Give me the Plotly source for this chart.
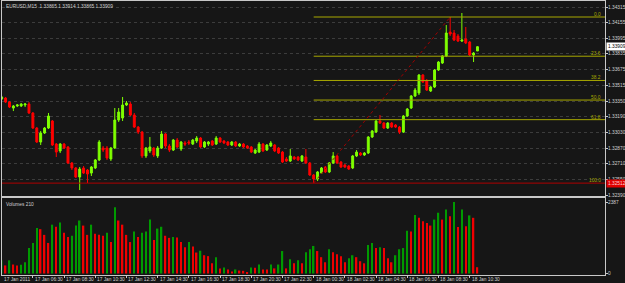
import plotly.graph_objects as go

# ---------------- data (EURUSD M15, 17-18 Jan 2011) ----------------
opens = [1.33373, 1.33383, 1.33342, 1.33281, 1.33302, 1.33302, 1.33312, 1.33322, 1.33230, 1.33076,
         1.32933, 1.33025, 1.33076, 1.33148, 1.32912, 1.32841, 1.32912, 1.32882, 1.32718, 1.32667,
         1.32574, 1.32667, 1.32646, 1.32615, 1.32667, 1.32749, 1.32871, 1.32871, 1.32759, 1.32871,
         1.33158, 1.33179, 1.33312, 1.33322, 1.33209, 1.33086, 1.33035, 1.32790, 1.32841, 1.32871,
         1.32790, 1.32871, 1.33015, 1.32892, 1.32851, 1.32953, 1.32861, 1.32923, 1.32933, 1.32912,
         1.32943, 1.32974, 1.32882, 1.32912, 1.32943, 1.32912, 1.32974, 1.32943, 1.32933, 1.32902,
         1.32933, 1.32892, 1.32912, 1.32892, 1.32882, 1.32820, 1.32830, 1.32912, 1.32851, 1.32892,
         1.32902, 1.32871, 1.32830, 1.32759, 1.32738, 1.32779, 1.32779, 1.32738, 1.32779, 1.32718,
         1.32595, 1.32554, 1.32615, 1.32677, 1.32626, 1.32718, 1.32790, 1.32728, 1.32697, 1.32687,
         1.32667, 1.32790, 1.32820, 1.32800, 1.32820, 1.32984, 1.33035, 1.33148, 1.33127, 1.33076,
         1.33127, 1.33107, 1.33086, 1.33035, 1.33199, 1.33281, 1.33404, 1.33435, 1.33619, 1.33558,
         1.33455, 1.33496, 1.33670, 1.33742, 1.33814, 1.34059, 1.34049, 1.34018, 1.33967, 1.33988,
         1.33957, 1.33824, 1.33865]
highs = [1.33404, 1.33394, 1.33353, 1.33312, 1.33322, 1.33332, 1.33332, 1.33342, 1.33240, 1.33086,
         1.33046, 1.33086, 1.33230, 1.33158, 1.32923, 1.32923, 1.32923, 1.32892, 1.32728, 1.32677,
         1.32677, 1.32687, 1.32656, 1.32687, 1.32759, 1.32953, 1.32892, 1.32892, 1.32882, 1.33281,
         1.33281, 1.33394, 1.33353, 1.33342, 1.33230, 1.33097, 1.33046, 1.32882, 1.32984, 1.32882,
         1.32892, 1.33046, 1.33025, 1.32912, 1.32964, 1.32974, 1.32943, 1.32943, 1.32953, 1.32964,
         1.32994, 1.32984, 1.32943, 1.32943, 1.32953, 1.32994, 1.32984, 1.32953, 1.32943, 1.32943,
         1.32943, 1.32923, 1.32923, 1.32902, 1.32892, 1.32861, 1.32933, 1.32923, 1.32912, 1.32943,
         1.32912, 1.32882, 1.32841, 1.32779, 1.32861, 1.32790, 1.32790, 1.32800, 1.32861, 1.32728,
         1.32605, 1.32636, 1.32677, 1.32687, 1.32728, 1.32830, 1.32800, 1.32738, 1.32708, 1.32697,
         1.32800, 1.32851, 1.32830, 1.32830, 1.32994, 1.33056, 1.33158, 1.33209, 1.33138, 1.33138,
         1.33138, 1.33117, 1.33097, 1.33209, 1.33281, 1.33414, 1.33486, 1.33629, 1.33629, 1.33578,
         1.33506, 1.33680, 1.33762, 1.33824, 1.34131, 1.34213, 1.34080, 1.34039, 1.34254, 1.34111,
         1.33967, 1.33855, 1.33914]
lows = [1.33363, 1.33332, 1.33281, 1.33250, 1.33291, 1.33291, 1.33291, 1.33220, 1.33066, 1.32923,
        1.32902, 1.33015, 1.33066, 1.32892, 1.32779, 1.32820, 1.32861, 1.32708, 1.32646, 1.32564,
        1.32441, 1.32605, 1.32513, 1.32585, 1.32656, 1.32738, 1.32830, 1.32749, 1.32738, 1.32861,
        1.33138, 1.33148, 1.33302, 1.33199, 1.33076, 1.33015, 1.32769, 1.32769, 1.32820, 1.32779,
        1.32769, 1.32861, 1.32871, 1.32830, 1.32841, 1.32871, 1.32841, 1.32892, 1.32902, 1.32902,
        1.32923, 1.32871, 1.32871, 1.32892, 1.32892, 1.32902, 1.32923, 1.32912, 1.32892, 1.32892,
        1.32882, 1.32882, 1.32871, 1.32861, 1.32820, 1.32810, 1.32820, 1.32830, 1.32841, 1.32882,
        1.32830, 1.32810, 1.32718, 1.32728, 1.32728, 1.32749, 1.32738, 1.32728, 1.32708, 1.32585,
        1.32512, 1.32533, 1.32605, 1.32615, 1.32615, 1.32708, 1.32708, 1.32667, 1.32667, 1.32646,
        1.32656, 1.32779, 1.32790, 1.32790, 1.32810, 1.32974, 1.33025, 1.33117, 1.33066, 1.33066,
        1.33076, 1.33076, 1.33015, 1.33025, 1.33189, 1.33271, 1.33394, 1.33414, 1.33537, 1.33455,
        1.33445, 1.33486, 1.33660, 1.33732, 1.33803, 1.34018, 1.33967, 1.33957, 1.33957, 1.33936,
        1.33814, 1.33752, 1.33865]
closes = [1.33394, 1.33342, 1.33291, 1.33302, 1.33312, 1.33322, 1.33322, 1.33230, 1.33076, 1.32933,
          1.33025, 1.33076, 1.33199, 1.32902, 1.32830, 1.32912, 1.32871, 1.32718, 1.32667, 1.32574,
          1.32656, 1.32615, 1.32605, 1.32677, 1.32749, 1.32933, 1.32851, 1.32769, 1.32871, 1.33158,
          1.33240, 1.33312, 1.33332, 1.33209, 1.33086, 1.33035, 1.32790, 1.32871, 1.32882, 1.32800,
          1.32871, 1.33015, 1.32892, 1.32851, 1.32953, 1.32882, 1.32933, 1.32912, 1.32923, 1.32953,
          1.32974, 1.32882, 1.32933, 1.32933, 1.32902, 1.32974, 1.32933, 1.32923, 1.32902, 1.32933,
          1.32892, 1.32912, 1.32882, 1.32871, 1.32830, 1.32851, 1.32912, 1.32841, 1.32902, 1.32923,
          1.32841, 1.32820, 1.32728, 1.32738, 1.32790, 1.32759, 1.32749, 1.32790, 1.32718, 1.32595,
          1.32554, 1.32626, 1.32667, 1.32626, 1.32718, 1.32790, 1.32718, 1.32677, 1.32677, 1.32656,
          1.32790, 1.32830, 1.32800, 1.32820, 1.32984, 1.33046, 1.33148, 1.33127, 1.33076, 1.33127,
          1.33086, 1.33086, 1.33035, 1.33199, 1.33271, 1.33404, 1.33465, 1.33619, 1.33547, 1.33465,
          1.33496, 1.33670, 1.33752, 1.33814, 1.34049, 1.34039, 1.33977, 1.33967, 1.33977, 1.33947,
          1.33824, 1.33844, 1.33909]
volumes = [440, 270, 440, 300, 270, 290, 375, 850, 1020, 1520,
           1480, 1290, 1020, 1630, 1560, 1700, 1360, 1220, 1260, 1600,
           1770, 1600, 1290, 1630, 1330, 1290, 1260, 1360, 1050, 2210,
           1770, 1630, 1290, 1050, 1400, 1220, 1360, 1400, 1800, 1120,
           1500, 1560, 1260, 1190, 1220, 1200, 1050, 880, 1050, 900,
           700, 760, 610, 580, 340, 545, 170, 200, 135, 70,
           135, 100, 90, 35, 200, 190, 300, 135, 130, 300,
           170, 300, 750, 170, 475, 340, 440, 340, 710, 810,
           920, 750, 545, 375, 810, 710, 645, 580, 375, 510,
           610, 545, 410, 340, 950, 1020, 850, 880, 850, 510,
           375, 610, 810, 850, 1430, 1400, 1950, 1860, 1745, 1690,
           1600, 1800, 2030, 1800, 2140, 1915, 2387, 1555, 2140, 1575,
           1940, 1860, 210]

time_label_bars = [0, 8, 16, 24, 32, 40, 48, 56, 64, 72, 80, 88, 96, 104, 112, 120]
time_labels = ["17 Jan 2011", "17 Jan 06:30", "17 Jan 08:30", "17 Jan 10:30", "17 Jan 12:30",
               "17 Jan 14:30", "17 Jan 16:30", "17 Jan 18:30", "17 Jan 20:30", "17 Jan 22:30",
               "18 Jan 00:30", "18 Jan 02:30", "18 Jan 04:30", "18 Jan 06:30", "18 Jan 08:30",
               "18 Jan 10:30"]
price_ticks = [1.34315, 1.34155, 1.33995, 1.33835, 1.33675, 1.33515, 1.33350, 1.33190,
               1.33030, 1.32870, 1.32710, 1.32550, 1.32390]
fib_ratios = [0.0, 23.6, 38.2, 50.0, 61.8, 100.0]
fib_low_bar = 80
fib_high_bar = 115
symbol = "EURUSD,M15"

# ---------------- styling ----------------
BG = "#161616"
AXIS = "#c8c8c8"
TXT = "#d0d0d0"
CANDLE_UP = "#7fff00"
CANDLE_DN = "#ff0000"
VOL_UP = "#009a00"
VOL_DN = "#f00000"
FIB = "#a8a800"
LOWLINE = "#b00000"
FONT = "Liberation Sans"
FS = 4.8

n = len(closes)
xs = list(range(n))
X_MIN, X_MAX = 0.08, 154.7


def xpaper(b):
    return (b - X_MIN) / (X_MAX - X_MIN)


vol_colors = [VOL_UP]
for i in range(1, n):
    vol_colors.append(VOL_UP if volumes[i] > volumes[i - 1] else VOL_DN)

fig = go.Figure()
fig.add_trace(go.Candlestick(
    x=xs, open=opens, high=highs, low=lows, close=closes,
    increasing=dict(line=dict(color=CANDLE_UP, width=1), fillcolor=CANDLE_UP),
    decreasing=dict(line=dict(color=CANDLE_DN, width=1), fillcolor=CANDLE_DN),
    whiskerwidth=0, xaxis="x", yaxis="y", showlegend=False, hoverinfo="skip"))
fig.add_trace(go.Bar(
    x=xs, y=volumes, marker=dict(color=vol_colors, line=dict(width=0)),
    width=0.36, xaxis="x2", yaxis="y2", showlegend=False, hoverinfo="skip"))

fib_low = lows[fib_low_bar]
fib_high = highs[fib_high_bar]

shapes = []
annotations = []
shapes.append(dict(type="line", xref="x", yref="y", x0=X_MIN, x1=X_MAX, y0=fib_low, y1=fib_low,
                   line=dict(color=LOWLINE, width=1)))
for r in fib_ratios:
    lvl = fib_high - r / 100.0 * (fib_high - fib_low)
    if r < 100:
        shapes.append(dict(type="line", xref="x", yref="y", x0=fib_low_bar, x1=X_MAX, y0=lvl, y1=lvl,
                           line=dict(color=FIB, width=1)))
    annotations.append(dict(xref="paper", yref="y", x=0.9955, y=lvl, text=f"{r:.1f}", showarrow=False,
                            xanchor="right", yanchor="bottom", yshift=-1, borderpad=0,
                            font=dict(family=FONT, size=FS, color=FIB)))
shapes.append(dict(type="line", xref="x", yref="y", x0=fib_low_bar, x1=fib_high_bar, y0=fib_low, y1=fib_high,
                   line=dict(color="#a00000", width=1, dash="dot")))

# price axis labels
for v in price_ticks:
    annotations.append(dict(xref="paper", yref="y", x=1.0, y=v, xanchor="left", yanchor="middle",
                            xshift=2, text=f"{v:.5f}", showarrow=False, borderpad=0,
                            font=dict(family=FONT, size=FS, color=TXT)))
# volume axis labels
for v in [max(volumes), 0]:
    annotations.append(dict(xref="paper", yref="y2", x=1.0, y=v, xanchor="left", yanchor="middle",
                            xshift=2, text=str(v), showarrow=False, borderpad=0,
                            font=dict(family=FONT, size=FS, color=TXT)))
# time labels
for b, t in zip(time_label_bars, time_labels):
    annotations.append(dict(xref="paper", yref="paper", x=max(xpaper(b), 0.0), y=0, xanchor="left",
                            yanchor="top", xshift=1, yshift=-1, text=t, showarrow=False, borderpad=0,
                            font=dict(family=FONT, size=FS, color=TXT)))

# header
annotations.append(dict(xref="paper", yref="paper", x=0.004, y=0.997, xanchor="left", yanchor="top",
                        text=f"{symbol}  {opens[-1]:.5f} {highs[-1]:.5f} {lows[-1]:.5f} {closes[-1]:.5f}",
                        showarrow=False, font=dict(family=FONT, size=FS, color=TXT)))
annotations.append(dict(xref="paper", yref="y2 domain", x=0.004, y=0.98, xanchor="left", yanchor="top",
                        text=f"Volumes {volumes[-1]}", showarrow=False,
                        font=dict(family=FONT, size=FS, color=TXT)))
# price boxes on axis
annotations.append(dict(xref="paper", yref="y", x=1.0, y=closes[-1], xanchor="left", yanchor="middle",
                        xshift=1, text=f"{closes[-1]:.5f}", showarrow=False, bgcolor="#ffffff", borderpad=1,
                        font=dict(family=FONT, size=FS, color="#000000")))
annotations.append(dict(xref="paper", yref="y", x=1.0, y=fib_low, xanchor="left", yanchor="middle",
                        xshift=1, text=f"{fib_low:.5f}", showarrow=False, bgcolor="#e00000", borderpad=1,
                        font=dict(family=FONT, size=FS, color="#ffd0d0")))

top_px, split_px, vol_top_px, bottom_px = 1, 196, 198, 275
plot_h = bottom_px - top_px
main_dom = [(bottom_px - split_px) / plot_h, 1.0]
vol_dom = [0.0, (bottom_px - vol_top_px) / plot_h]

fig.update_layout(
    width=625, height=283,
    margin=dict(l=2, r=20, t=1, b=8),
    paper_bgcolor=BG, plot_bgcolor=BG,
    shapes=shapes, annotations=annotations,
    xaxis=dict(domain=[0, 1], range=[X_MIN, X_MAX], anchor="y", showticklabels=False,
               showgrid=False, zeroline=False, showline=True, mirror=True, linecolor=AXIS, linewidth=1,
               rangeslider=dict(visible=False), fixedrange=True),
    yaxis=dict(domain=main_dom, range=[1.32380, 1.34377], side="right", anchor="x",
               tickvals=price_ticks, showticklabels=False, ticks="outside", ticklen=2,
               tickcolor=AXIS, showgrid=True, gridcolor="#3c3c3c", griddash="dot", gridwidth=1,
               zeroline=False, showline=True, mirror=True, linecolor=AXIS, linewidth=1,
               automargin=False),
    xaxis2=dict(domain=[0, 1], range=[X_MIN, X_MAX], anchor="y2", tickvals=time_label_bars,
                showticklabels=False, ticks="outside", ticklen=2, tickcolor=AXIS,
                showgrid=False, zeroline=False,
                showline=True, mirror=True, linecolor=AXIS, linewidth=1, automargin=False),
    yaxis2=dict(domain=vol_dom, range=[-50, 2521], side="right", anchor="x2",
                tickvals=[0, max(volumes)], showticklabels=False, ticks="outside", ticklen=2,
                tickcolor=AXIS, showgrid=False, zeroline=False, showline=True, mirror=True,
                linecolor=AXIS, linewidth=1, automargin=False),
)

fig.write_html("out.html")
